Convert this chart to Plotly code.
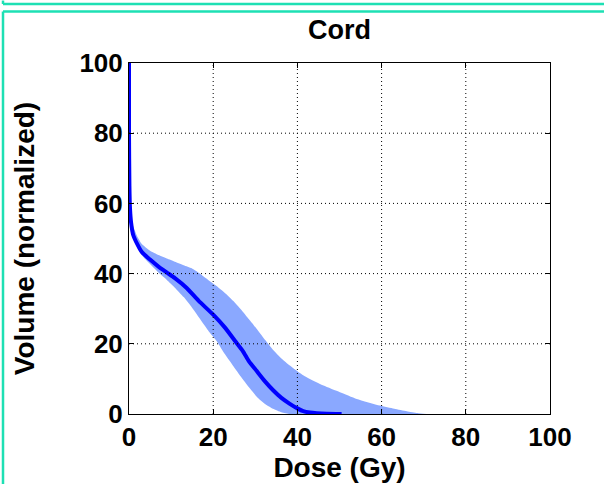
import plotly.graph_objects as go

# ---- data ----
mean_dose = [0, 0, 0.1, 0.24, 0.5, 1.0, 2, 3, 5, 7, 9, 10.9, 13.7, 16.5, 20, 22.8, 25.2,
             27, 28.5, 30.3, 32.3, 34.3, 36.2, 38.2, 40, 41.4, 43, 44.6, 47, 50.5]
mean_vol = [100, 80, 65, 58.5, 54.5, 51, 48.3, 46.2, 44, 42, 40.3, 38.7, 35.9, 32.3, 28.3,
            24.6, 20.8, 18.0, 15.0, 12.3, 9.3, 6.7, 4.6, 2.9, 1.6, 0.8, 0.4, 0.2, 0.05, 0]

band_dose = [0.2, 0.5, 1, 2, 3, 5, 7, 9, 10.9, 13, 14.9, 16.8, 18.8, 20.8, 22.8, 24.8,
             26.6, 28.5, 30.5, 32.4, 34.2, 36.2, 38.2, 40.2, 42.2, 46.2, 50.1, 54.1, 59.6,
             63, 66, 68.5, 70.7]
band_upper = [58.8, 56, 53.5, 50.5, 48.5, 46.5, 45.3, 44.3, 43.4, 42.4, 41.5, 40.0, 38.2,
              36.5, 34.5, 32.2, 29.8, 27.0, 24.0, 21.0, 18.3, 15.8, 13.8, 12.0, 10.5, 8.1,
              6.2, 4.3, 2.4, 1.5, 0.8, 0.3, 0]
band_lower = [58.2, 54.5, 51.5, 47.5, 45.3, 42.7, 40.3, 38.2, 36.0, 33.3, 30.4, 27.2, 23.8,
              20.8, 17.0, 13.6, 10.6, 7.6, 4.7, 2.8, 1.5, 0.5, 0, 0, 0, 0, 0, 0, 0, 0, 0,
              0, 0]

x_ticks = [0, 20, 40, 60, 80, 100]
y_ticks = [0, 20, 40, 60, 80, 100]

title_text = "Cord"
x_title = "Dose (Gy)"
y_title = "Volume (normalized)"

FONT = "Liberation Sans, Arial, sans-serif"
W, H = 604, 484
L, R, T, B = 129, 54, 63, 67
PW, PH = W - L - R, H - T - B

fig = go.Figure()
fig.add_trace(go.Scatter(x=band_dose, y=band_lower, mode="lines", line_shape="spline",
                         line=dict(width=0, smoothing=0.5),
                         hoverinfo="skip", showlegend=False))
fig.add_trace(go.Scatter(x=band_dose, y=band_upper, mode="lines", line_shape="spline",
                         line=dict(width=0, smoothing=0.5),
                         fill="tonexty", fillcolor="#8AA8FF", hoverinfo="skip",
                         showlegend=False))
fig.add_trace(go.Scatter(x=mean_dose, y=mean_vol, mode="lines", line_shape="spline",
                         line=dict(color="#0000FF", width=4, smoothing=0.6),
                         showlegend=False))

axis_common = dict(
    showline=True, linecolor="black", linewidth=1, mirror="ticks",
    ticks="inside", ticklen=5, tickcolor="black",
    showgrid=False, zeroline=False,
    tickfont=dict(family=FONT, size=26, color="black", weight="bold"),
)

fig.update_xaxes(range=[0, 100], tickvals=x_ticks, ticktext=[str(v) for v in x_ticks],
                 title=dict(text=x_title, standoff=0,
                            font=dict(family=FONT, size=28, color="black", weight="bold")),
                 **axis_common)
fig.update_yaxes(range=[0, 100], tickvals=y_ticks, ticktext=[str(v) for v in y_ticks],
                 title=dict(text=y_title, standoff=36,
                            font=dict(family=FONT, size=28, color="black", weight="bold")),
                 **axis_common)

shapes = []
# dotted grid drawn on top of the data, as in the reference
for v in x_ticks[1:-1]:
    shapes.append(dict(type="line", xref="x", yref="paper", x0=v, x1=v, y0=0, y1=1,
                       line=dict(color="black", width=1, dash="1px,3px"), layer="above"))
for v in y_ticks[1:-1]:
    shapes.append(dict(type="line", xref="paper", yref="y", x0=0, x1=1, y0=v, y1=v,
                       line=dict(color="black", width=1, dash="1px,3px"), layer="above"))

def px2paper(px, py):
    return (px - L) / PW, (H - B - py) / PH

green = "#1EE0B4"
for (x0, y0, x1, y1) in [(3, 0, 3, 3.5), (3, 3.5, 610, 3.5), (3, 11, 3, 490), (3, 11, 610, 11)]:
    a0, b0 = px2paper(x0, y0)
    a1, b1 = px2paper(x1, y1)
    shapes.append(dict(type="line", xref="paper", yref="paper", x0=a0, y0=b0, x1=a1, y1=b1,
                       line=dict(color=green, width=2.5), layer="above"))

fig.update_layout(
    width=W, height=H,
    margin=dict(l=L, r=R, t=T, b=B),
    paper_bgcolor="white", plot_bgcolor="white",
    title=dict(text=title_text, x=(L + PW / 2) / W, xanchor="center", y=1 - 30 / H,
               yanchor="middle",
               font=dict(family=FONT, size=27, color="black", weight="bold")),
    shapes=shapes,
)

fig.write_html("out.html")
